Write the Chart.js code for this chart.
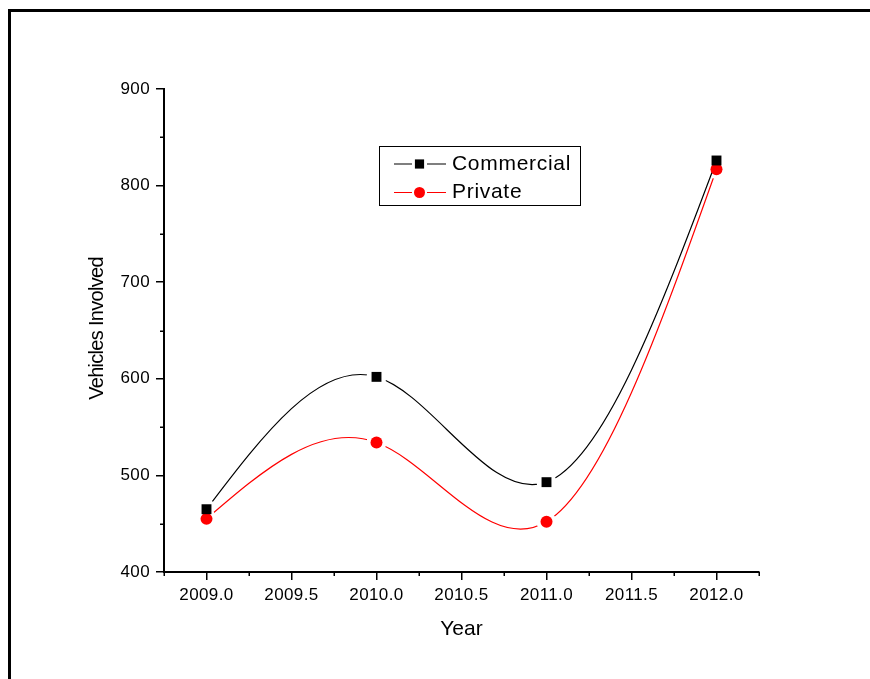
<!DOCTYPE html>
<html>
<head>
<meta charset="utf-8">
<title>Vehicles Involved by Year</title>
<script src="https://cdn.jsdelivr.net/npm/chart.js@4.4.0/dist/chart.umd.min.js"></script>
<style>
  html, body { margin: 0; padding: 0; background: #fff; }
  #wrap { position: relative; width: 870px; height: 679px; overflow: hidden; }
  #chart { position: absolute; left: 0; top: 0; }
  #frame { position: absolute; left: 8px; top: 9px; right: -10px; bottom: -10px;
           border-left: 3px solid #000; border-top: 3px solid #000; pointer-events: none; }
</style>
</head>
<body>
<div id="wrap">
  <canvas id="chart" width="870" height="679"></canvas>
  <div id="frame"></div>
</div>
<script>
// Survey years and vehicle counts
const years = [2009, 2010, 2011, 2012];
const commercial = [465, 602, 493, 826];
const privateVehicles = [455, 534, 452, 817];

// Axis ticks
const xTicks = [2009.0, 2009.5, 2010.0, 2010.5, 2011.0, 2011.5, 2012.0];
const xTickLabels = ['2009.0', '2009.5', '2010.0', '2010.5', '2011.0', '2011.5', '2012.0'];
const xMinorTicks = [2008.75, 2009.25, 2009.75, 2010.25, 2010.75, 2011.25, 2011.75, 2012.25];
const yTicks = [400, 500, 600, 700, 800, 900];
const yMinorTicks = [450, 550, 650, 750, 850];

const xTitle = 'Year';
const yTitle = 'Vehicles Involved';

const FONT = '"Liberation Sans", Arial, Helvetica, sans-serif';

// Natural cubic spline derivatives (uniform parameter) via the Thomas algorithm
function splineDerivs(v) {
  const n = v.length;
  const a = new Array(n).fill(0), b = new Array(n).fill(0), c = new Array(n).fill(0), d = new Array(n).fill(0);
  for (let i = 0; i < n; i++) {
    if (i === 0) { b[i] = 2; c[i] = 1; d[i] = 3 * (v[1] - v[0]); }
    else if (i === n - 1) { a[i] = 1; b[i] = 2; d[i] = 3 * (v[n - 1] - v[n - 2]); }
    else { a[i] = 1; b[i] = 4; c[i] = 1; d[i] = 3 * (v[i + 1] - v[i - 1]); }
  }
  for (let i = 1; i < n; i++) {
    const m = a[i] / b[i - 1];
    b[i] -= m * c[i - 1];
    d[i] -= m * d[i - 1];
  }
  const D = new Array(n);
  D[n - 1] = d[n - 1] / b[n - 1];
  for (let i = n - 2; i >= 0; i--) D[i] = (d[i] - c[i] * D[i + 1]) / b[i];
  return D;
}

function drawMarker(ctx, style, x, y, r, color) {
  ctx.fillStyle = color;
  ctx.beginPath();
  if (style === 'rect') {
    const s = r * Math.SQRT1_2;
    ctx.rect(x - s, y - s, 2 * s, 2 * s);
  } else {
    ctx.arc(x, y, r, 0, Math.PI * 2);
  }
  ctx.fill();
}

// Smooth connecting curves, broken around each marker
const splineLines = {
  id: 'splineLines',
  beforeDraw(chart) {
    chart.ctx.letterSpacing = '0.4px';
  },
  beforeDatasetsDraw(chart) {
    const ctx = chart.ctx;
    const gap = 10;
    chart.data.datasets.forEach((ds, i) => {
      const pts = chart.getDatasetMeta(i).data.map(p => ({ x: p.x, y: p.y }));
      if (pts.length < 2) return;
      const Dx = splineDerivs(pts.map(p => p.x));
      const Dy = splineDerivs(pts.map(p => p.y));
      ctx.save();
      ctx.beginPath();
      ctx.rect(0, 0, chart.width, chart.height);
      pts.forEach(p => { ctx.moveTo(p.x + gap, p.y); ctx.arc(p.x, p.y, gap, 0, Math.PI * 2); });
      ctx.clip('evenodd');
      ctx.beginPath();
      ctx.moveTo(pts[0].x, pts[0].y);
      for (let k = 0; k < pts.length - 1; k++) {
        ctx.bezierCurveTo(
          pts[k].x + Dx[k] / 3, pts[k].y + Dy[k] / 3,
          pts[k + 1].x - Dx[k + 1] / 3, pts[k + 1].y - Dy[k + 1] / 3,
          pts[k + 1].x, pts[k + 1].y);
      }
      ctx.strokeStyle = ds.lineColor;
      ctx.lineWidth = 1.2;
      ctx.stroke();
      ctx.restore();
    });
  },
  afterDraw(chart) {
    const ctx = chart.ctx;
    const xs = chart.scales.x, ys = chart.scales.y;
    const area = chart.chartArea;

    // minor ticks
    ctx.save();
    ctx.strokeStyle = '#000';
    ctx.lineWidth = 1.5;
    ctx.beginPath();
    xMinorTicks.forEach(v => {
      const px = Math.round(xs.getPixelForValue(v)) + 0.25;
      ctx.moveTo(px, area.bottom);
      ctx.lineTo(px, area.bottom + 4);
    });
    yMinorTicks.forEach(v => {
      const py = Math.round(ys.getPixelForValue(v)) + 0.25;
      ctx.moveTo(area.left - 4, py);
      ctx.lineTo(area.left, py);
    });
    ctx.stroke();
    ctx.restore();

    // axis titles
    ctx.save();
    ctx.fillStyle = '#000';
    ctx.letterSpacing = '0px';
    ctx.font = '21px ' + FONT;
    ctx.textAlign = 'center';
    ctx.textBaseline = 'middle';
    ctx.fillText(xTitle, (area.left + area.right) / 2, 629);
    ctx.translate(103, (area.top + area.bottom) / 2 - 2);
    ctx.rotate(-Math.PI / 2);
    ctx.letterSpacing = '-0.7px';
    ctx.font = '20px ' + FONT;
    ctx.textBaseline = 'alphabetic';
    ctx.fillText(yTitle, 0, 0);
    ctx.restore();

    // legend box
    ctx.save();
    ctx.strokeStyle = '#000';
    ctx.lineWidth = 1;
    ctx.strokeRect(379.5, 146.5, 201, 59);
    const rows = [164, 192.5];
    chart.data.datasets.forEach((ds, i) => {
      const y = rows[i];
      ctx.strokeStyle = ds.lineColor;
      ctx.lineWidth = 1.2;
      ctx.beginPath();
      ctx.moveTo(394, y); ctx.lineTo(412, y);
      ctx.moveTo(427, y); ctx.lineTo(446, y);
      ctx.stroke();
      drawMarker(ctx, ds.pointStyle, 419.5, y, ds.pointStyle === 'rect' ? 6.5 : 5.5, ds.backgroundColor);
      ctx.fillStyle = '#000';
      ctx.letterSpacing = '0.7px';
      ctx.font = '21px ' + FONT;
      ctx.textAlign = 'left';
      ctx.textBaseline = 'middle';
      ctx.fillText(ds.label, 452, y);
    });
    ctx.restore();
  }
};

new Chart(document.getElementById('chart'), {
  type: 'scatter',
  data: {
    datasets: [
      {
        label: 'Commercial',
        data: years.map((yr, i) => ({ x: yr, y: commercial[i] })),
        pointStyle: 'rect',
        pointRadius: 7,
        pointBorderWidth: 0,
        backgroundColor: '#000000',
        borderColor: '#000000',
        lineColor: '#000000',
        showLine: false
      },
      {
        label: 'Private',
        data: years.map((yr, i) => ({ x: yr, y: privateVehicles[i] })),
        pointStyle: 'circle',
        pointRadius: 6,
        pointBorderWidth: 0,
        backgroundColor: '#ff0000',
        borderColor: '#ff0000',
        lineColor: '#ff0000',
        showLine: false
      }
    ]
  },
  options: {
    responsive: false,
    animation: false,
    devicePixelRatio: 1,
    layout: { padding: { left: 0, right: 111, top: 89, bottom: 0 } },
    plugins: {
      legend: { display: false },
      tooltip: { enabled: false }
    },
    scales: {
      x: {
        type: 'linear',
        position: 'bottom',
        min: 2008.75,
        max: 2012.25,
        afterBuildTicks(scale) { scale.ticks = xTicks.map(v => ({ value: v })); },
        afterFit(scale) { scale.height = 107; },
        ticks: {
          color: '#000',
          font: { family: FONT, size: 17 },
          padding: 5,
          maxRotation: 0,
          autoSkip: false,
          callback: (v, i) => xTickLabels[i]
        },
        grid: { display: true, drawOnChartArea: false, drawTicks: true, tickLength: 8, color: '#000', lineWidth: 1.5 },
        border: { display: true, color: '#000', width: 2 },
        title: { display: false }
      },
      y: {
        type: 'linear',
        position: 'left',
        min: 400,
        max: 900,
        afterBuildTicks(scale) { scale.ticks = yTicks.map(v => ({ value: v })); },
        afterFit(scale) { scale.width = 164; },
        ticks: {
          color: '#000',
          font: { family: FONT, size: 17 },
          padding: 6,
          autoSkip: false,
          callback: v => String(v)
        },
        grid: { display: true, drawOnChartArea: false, drawTicks: true, tickLength: 8, color: '#000', lineWidth: 1.5 },
        border: { display: true, color: '#000', width: 2 },
        title: { display: false }
      }
    }
  },
  plugins: [splineLines]
});
</script>
</body>
</html>
